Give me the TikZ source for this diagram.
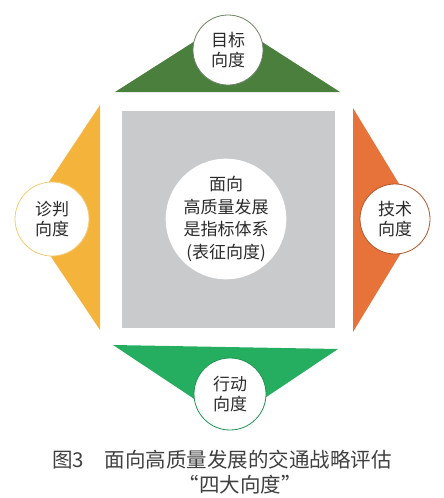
\documentclass[tikz,border=0pt]{standalone}
\usepackage{fontspec}
\setmainfont{Noto Sans CJK SC}
\usetikzlibrary{calc}

\definecolor{mubiao}{HTML}{4B7F3E}
\definecolor{xingdong}{HTML}{25AE5F}
\definecolor{zhenpan}{HTML}{F4B43C}
\definecolor{jishu}{HTML}{E8733A}
\definecolor{tixi}{HTML}{C9CACC}
\definecolor{wenzi}{HTML}{2B2B2B}

\tikzset{
	xiangdu/.style={circle, fill=white, line width=0.8pt, minimum size=70pt, inner sep=0pt,
		align=center, text=wenzi, font=\fontsize{17}{20}\selectfont},
	tubiao/.style={text=wenzi!90, font=\fontsize{20.5}{25}\selectfont, inner sep=0pt}
}

\begin{document}
\begin{tikzpicture}[x=1pt, y=-1pt]
	\useasboundingbox (0,0) rectangle (444,498);
	\coordinate (A1) at (115, 92);
	\coordinate (A2) at (340, 92);
	\coordinate (A3) at (228, 20);
	\coordinate (B1) at (100, 105);
	\coordinate (B2) at (100, 330);
	\coordinate (B3) at (25, 218);
	\coordinate (C1) at (353, 108);
	\coordinate (C2) at (353, 332);
	\coordinate (C3) at (421, 220);
	\coordinate (D1) at (113, 345);
	\coordinate (D2) at (338, 349);
	\coordinate (D3) at (229, 422);
	
	\fill[mubiao] (A1) -- (A2) -- (A3) -- cycle;
	\fill[zhenpan] (B1) -- (B2) -- (B3) -- cycle;
	\fill[jishu] (C1) -- (C2) -- (C3) -- cycle;
	\fill[xingdong] (D1) -- (D2) -- (D3) -- cycle;
	\fill[tixi] (122, 111) rectangle (335, 328);
	
	\node[xiangdu, draw=mubiao!60!black!70] (mb) at (228, 50) {目标\\向度};
	\node[xiangdu, draw=zhenpan!70!white, minimum size=74pt] (zp) at (52, 219) {诊判\\向度};
	\node[xiangdu, draw=jishu!75!black] (js) at (395, 219) {技术\\向度};
	\node[xiangdu, draw=xingdong!85!black, minimum size=72pt] (xd) at (230, 394) {行动\\向度};
	\node[xiangdu, minimum size=112pt, font=\fontsize{17}{22.7}\selectfont] (zx) at (226, 219)
		{面向\\高质量发展\\是指标体系\\(表征向度)};
	
	\node[tubiao] (cap1) at (222, 460) {图3\hspace{1em}面向高质量发展的交通战略评估};
	\node[tubiao] (cap2) at (240, 485) {“四大向度”};
\end{tikzpicture}
\end{document}
